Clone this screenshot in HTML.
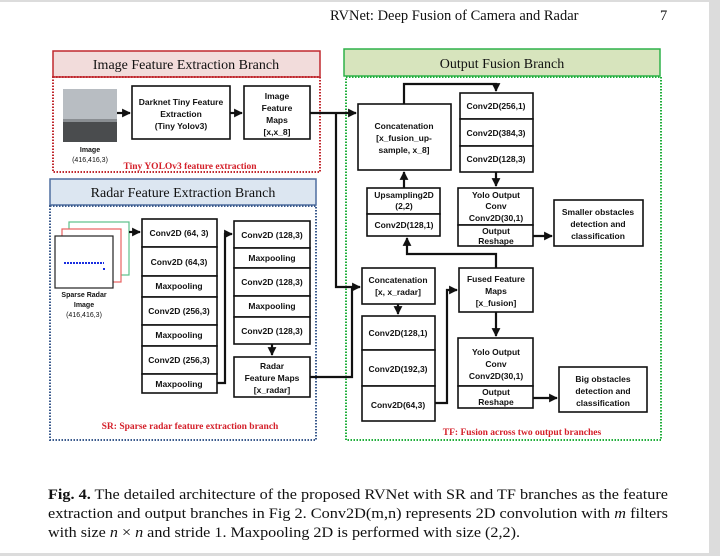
<!DOCTYPE html>
<html><head><meta charset="utf-8"><style>
html,body{margin:0;padding:0;background:#fff;}
svg{display:block;}
.b{font-family:"Liberation Sans",sans-serif;font-weight:bold;font-size:8.5px;fill:#111;text-anchor:middle;}
.t{font-family:"Liberation Serif",serif;font-size:14px;fill:#111;text-anchor:middle;}
.c{font-family:"Liberation Serif",serif;font-size:14.5px;fill:#111;}
.r{font-family:"Liberation Serif",serif;font-weight:bold;font-size:9.5px;fill:#d4202a;text-anchor:middle;}
.bx{fill:#fff;stroke:#111;stroke-width:1.6;}
.ln{fill:none;stroke:#111;stroke-width:2.2;}
</style></head><body>
<svg width="720" height="556" viewBox="0 0 720 556" xmlns="http://www.w3.org/2000/svg">
<defs><marker id="a" markerWidth="4.4" markerHeight="4.4" refX="3.6" refY="2.2" orient="auto" markerUnits="strokeWidth"><path d="M0,0.2 L4,2.2 L0,4.2z" fill="#111"/></marker></defs>
<rect x="0" y="0" width="720" height="556" fill="#dcdcdc"/>
<rect x="0" y="2" width="709" height="551" fill="#fff"/>
<text class="c" x="330" y="20">RVNet: Deep Fusion of Camera and Radar</text>
<text class="c" x="660" y="20">7</text>

<!-- Image branch -->
<rect x="53" y="51" width="267" height="26" fill="#f2dcdb" stroke="#c0282e" stroke-width="1.5"/>
<text class="t" x="186" y="69">Image Feature Extraction Branch</text>
<rect x="53" y="77" width="267" height="95" fill="none" stroke="#c0282e" stroke-width="2" stroke-dasharray="1.5,1.5"/>
<rect x="63" y="89" width="54" height="53" fill="#8a8e92"/>
<rect x="63" y="89" width="54" height="30" fill="#b8bdc2"/>
<rect x="63" y="122" width="54" height="20" fill="#4a4c4e"/>
<text class="b" x="90" y="152" style="font-size:7px">Image</text>
<text class="b" x="90" y="162" style="font-size:7px;font-weight:normal">(416,416,3)</text>
<rect class="bx" x="132" y="86" width="98" height="53"/>
<text class="b" x="181" y="105">Darknet Tiny Feature</text>
<text class="b" x="181" y="117">Extraction</text>
<text class="b" x="181" y="129">(Tiny Yolov3)</text>
<rect class="bx" x="244" y="86" width="66" height="53"/>
<text class="b" x="277" y="99">Image</text>
<text class="b" x="277" y="111">Feature</text>
<text class="b" x="277" y="123">Maps</text>
<text class="b" x="277" y="135">[x,x_8]</text>
<text class="r" x="190" y="169">Tiny YOLOv3 feature extraction</text>
<line class="ln" x1="117" y1="113" x2="130" y2="113" marker-end="url(#a)"/>
<line class="ln" x1="230" y1="113" x2="242" y2="113" marker-end="url(#a)"/>

<!-- Radar branch -->
<rect x="50" y="179" width="266" height="26" fill="#dce6f1" stroke="#4f6fa0" stroke-width="1.5"/>
<text class="t" x="183" y="197">Radar Feature Extraction Branch</text>
<rect x="50" y="206" width="266" height="234" fill="none" stroke="#3a5a8c" stroke-width="2" stroke-dasharray="1.5,1.5"/>
<rect x="69" y="222" width="60" height="53" fill="#fff" stroke="#5cc08a" stroke-width="1.2"/>
<rect x="62" y="229" width="59" height="53" fill="#fff" stroke="#e86060" stroke-width="1.2"/>
<rect x="55" y="236" width="58" height="52" fill="#fff" stroke="#222" stroke-width="1.2"/>
<line x1="64" y1="263" x2="104" y2="263" stroke="#1a2ee0" stroke-width="2" stroke-dasharray="2,1"/>
<rect x="103" y="268" width="2" height="2" fill="#1a2ee0"/>
<text class="b" x="84" y="297" style="font-size:7px">Sparse Radar</text>
<text class="b" x="84" y="307" style="font-size:7px">Image</text>
<text class="b" x="84" y="317" style="font-size:7px;font-weight:normal">(416,416,3)</text>
<line class="ln" x1="129" y1="232" x2="140" y2="232" marker-end="url(#a)"/>
<g>
<rect class="bx" x="142" y="219" width="75" height="28"/><text class="b" x="179" y="236">Conv2D (64, 3)</text>
<rect class="bx" x="142" y="247" width="75" height="29"/><text class="b" x="179" y="265">Conv2D (64,3)</text>
<rect class="bx" x="142" y="276" width="75" height="21"/><text class="b" x="179" y="289">Maxpooling</text>
<rect class="bx" x="142" y="297" width="75" height="28"/><text class="b" x="179" y="314">Conv2D (256,3)</text>
<rect class="bx" x="142" y="325" width="75" height="21"/><text class="b" x="179" y="338">Maxpooling</text>
<rect class="bx" x="142" y="346" width="75" height="28"/><text class="b" x="179" y="363">Conv2D (256,3)</text>
<rect class="bx" x="142" y="374" width="75" height="19"/><text class="b" x="179" y="387">Maxpooling</text>
</g>
<g>
<rect class="bx" x="234" y="221" width="76" height="27"/><text class="b" x="272" y="238">Conv2D (128,3)</text>
<rect class="bx" x="234" y="248" width="76" height="20"/><text class="b" x="272" y="261">Maxpooling</text>
<rect class="bx" x="234" y="268" width="76" height="28"/><text class="b" x="272" y="285">Conv2D (128,3)</text>
<rect class="bx" x="234" y="296" width="76" height="21"/><text class="b" x="272" y="309">Maxpooling</text>
<rect class="bx" x="234" y="317" width="76" height="27"/><text class="b" x="272" y="334">Conv2D (128,3)</text>
</g>
<polyline class="ln" points="217,383 225,383 225,234 232,234" marker-end="url(#a)"/>
<line class="ln" x1="272" y1="344" x2="272" y2="355" marker-end="url(#a)"/>
<rect class="bx" x="234" y="357" width="76" height="40"/>
<text class="b" x="272" y="369">Radar</text>
<text class="b" x="272" y="381">Feature Maps</text>
<text class="b" x="272" y="393">[x_radar]</text>
<text class="r" x="190" y="429">SR: Sparse radar feature extraction branch</text>

<!-- Output branch -->
<rect x="344" y="49" width="316" height="27" fill="#d7e4bd" stroke="#2fb24a" stroke-width="1.5"/>
<text class="t" x="502" y="68">Output Fusion Branch</text>
<rect x="346" y="77" width="315" height="363" fill="none" stroke="#1fae3a" stroke-width="2" stroke-dasharray="1.5,1.5"/>

<rect class="bx" x="358" y="104" width="93" height="66"/>
<text class="b" x="404" y="129">Concatenation</text>
<text class="b" x="404" y="141">[x_fusion_up-</text>
<text class="b" x="404" y="153">sample, x_8]</text>
<rect class="bx" x="460" y="93" width="73" height="26"/><text class="b" x="496" y="109">Conv2D(256,1)</text>
<rect class="bx" x="460" y="119" width="73" height="27"/><text class="b" x="496" y="136">Conv2D(384,3)</text>
<rect class="bx" x="460" y="146" width="73" height="26"/><text class="b" x="496" y="162">Conv2D(128,3)</text>
<rect class="bx" x="367" y="188" width="73" height="26"/>
<text class="b" x="404" y="198">Upsampling2D</text>
<text class="b" x="404" y="209">(2,2)</text>
<rect class="bx" x="367" y="214" width="73" height="22"/><text class="b" x="404" y="228">Conv2D(128,1)</text>
<rect class="bx" x="458" y="188" width="75" height="37"/>
<text class="b" x="496" y="198">Yolo Output</text>
<text class="b" x="496" y="209">Conv</text>
<text class="b" x="496" y="221">Conv2D(30,1)</text>
<rect class="bx" x="458" y="225" width="75" height="21"/>
<text class="b" x="496" y="234">Output</text>
<text class="b" x="496" y="244">Reshape</text>
<rect class="bx" x="554" y="200" width="89" height="46"/>
<text class="b" x="598" y="215">Smaller obstacles</text>
<text class="b" x="598" y="227">detection and</text>
<text class="b" x="598" y="239">classification</text>

<rect class="bx" x="362" y="268" width="73" height="36"/>
<text class="b" x="398" y="283">Concatenation</text>
<text class="b" x="398" y="295">[x, x_radar]</text>
<rect class="bx" x="362" y="316" width="73" height="34"/><text class="b" x="398" y="336">Conv2D(128,1)</text>
<rect class="bx" x="362" y="350" width="73" height="36"/><text class="b" x="398" y="372">Conv2D(192,3)</text>
<rect class="bx" x="362" y="386" width="73" height="35"/><text class="b" x="398" y="408">Conv2D(64,3)</text>
<rect class="bx" x="459" y="268" width="74" height="44"/>
<text class="b" x="496" y="282">Fused Feature</text>
<text class="b" x="496" y="294">Maps</text>
<text class="b" x="496" y="306">[x_fusion]</text>
<rect class="bx" x="458" y="338" width="75" height="48"/>
<text class="b" x="496" y="355">Yolo Output</text>
<text class="b" x="496" y="367">Conv</text>
<text class="b" x="496" y="379">Conv2D(30,1)</text>
<rect class="bx" x="458" y="386" width="75" height="22"/>
<text class="b" x="496" y="395">Output</text>
<text class="b" x="496" y="405">Reshape</text>
<rect class="bx" x="559" y="367" width="88" height="45"/>
<text class="b" x="603" y="382">Big obstacles</text>
<text class="b" x="603" y="394">detection and</text>
<text class="b" x="603" y="406">classification</text>
<text class="r" x="522" y="435">TF: Fusion across two output branches</text>

<!-- connectors -->
<line class="ln" x1="310" y1="113" x2="356" y2="113" marker-end="url(#a)"/>
<polyline class="ln" points="336,113 336,287 360,287" marker-end="url(#a)"/>
<polyline class="ln" points="310,377 352,377 352,287"/>
<polyline class="ln" points="404,104 404,84 496,84 496,91" marker-end="url(#a)"/>
<line class="ln" x1="496" y1="172" x2="496" y2="186" marker-end="url(#a)"/>
<line class="ln" x1="404" y1="188" x2="404" y2="172" marker-end="url(#a)"/>
<line class="ln" x1="533" y1="236" x2="552" y2="236" marker-end="url(#a)"/>
<polyline class="ln" points="496,268 496,254 407,254 407,238" marker-end="url(#a)"/>
<line class="ln" x1="398" y1="304" x2="398" y2="314" marker-end="url(#a)"/>
<polyline class="ln" points="435,403 447,403 447,290 457,290" marker-end="url(#a)"/>
<line class="ln" x1="496" y1="312" x2="496" y2="336" marker-end="url(#a)"/>
<line class="ln" x1="533" y1="398" x2="557" y2="398" marker-end="url(#a)"/>

<!-- caption -->
<text class="c" x="48" y="499" textLength="620" lengthAdjust="spacingAndGlyphs"><tspan font-weight="bold">Fig. 4.</tspan> The detailed architecture of the proposed RVNet with SR and TF branches as the feature</text>
<text class="c" x="48" y="518" textLength="620" lengthAdjust="spacingAndGlyphs">extraction and output branches in Fig 2. Conv2D(m,n) represents 2D convolution with <tspan font-style="italic">m</tspan> filters</text>
<text class="c" x="48" y="537" textLength="472" lengthAdjust="spacingAndGlyphs">with size <tspan font-style="italic">n</tspan> × <tspan font-style="italic">n</tspan> and stride 1. Maxpooling 2D is performed with size (2,2).</text>
</svg>
</body></html>
